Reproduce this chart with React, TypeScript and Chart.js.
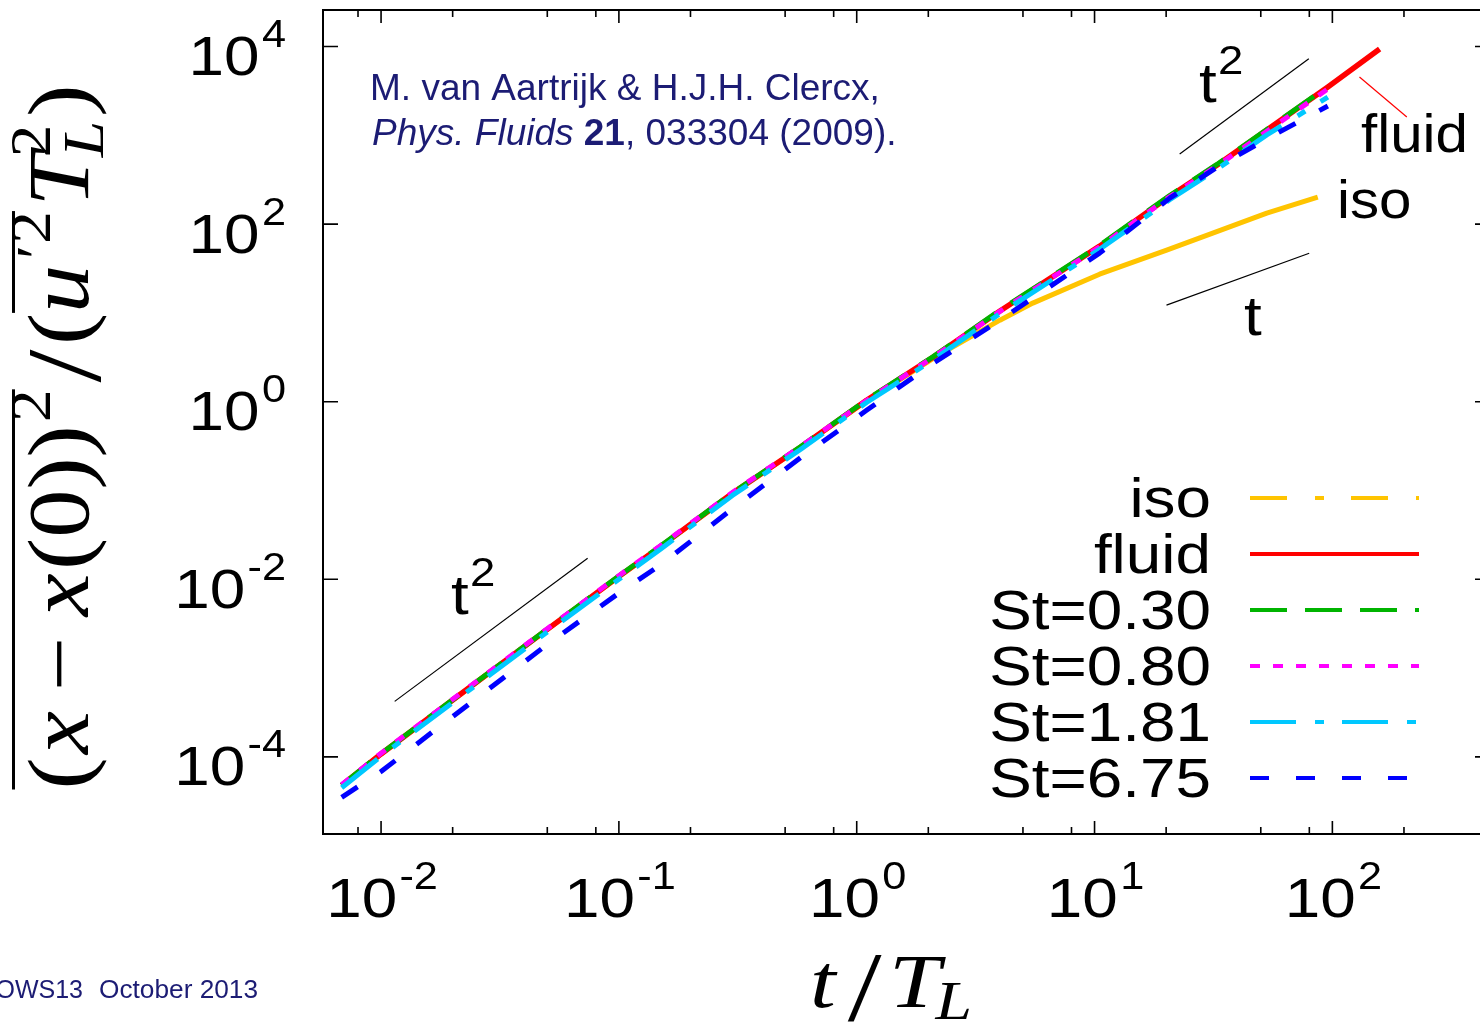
import { useEffect, useRef } from "react";
import { Chart, registerables } from "chart.js";

Chart.register(...registerables);

// ---------------------------------------------------------------------------
// Data: single-particle dispersion vs. time, both in Lagrangian units
// ---------------------------------------------------------------------------
const tPart = [0.00683, 0.01, 0.02, 0.05, 0.1, 0.15, 0.3, 0.58, 1.1, 2.09, 4.0, 10.5, 20.7, 32.7, 53.0, 95.7];
const tFluid = [0.00683, 0.01, 0.02, 0.05, 0.1, 0.15, 0.3, 0.58, 1.1, 2.09, 4.0, 10.5, 20.7, 32.7, 53.0, 95.7, 158];
const yFluid = [4.77e-5, 1.08e-4, 4.38e-4, 2.73e-3, 1.08e-2, 2.35e-2, 0.093, 0.307, 1.04, 3.17, 10.5, 56.5, 206, 461, 1145, 3500, 9370];
const ySt030 = [4.8e-5, 1.09e-4, 4.4e-4, 2.75e-3, 1.09e-2, 2.38e-2, 0.094, 0.31, 1.05, 3.2, 10.7, 57.5, 210, 470, 1160, 3550];
const ySt080 = [4.85e-5, 1.1e-4, 4.45e-4, 2.78e-3, 1.1e-2, 2.4e-2, 0.095, 0.312, 1.03, 3.15, 10.4, 55.5, 203, 450, 1110, 3320];
const ySt181 = [4.5e-5, 1.02e-4, 4.1e-4, 2.55e-3, 1.0e-2, 2.2e-2, 0.088, 0.29, 0.98, 2.95, 9.8, 52, 188, 415, 1010, 2700];
const ySt675 = [3.5e-5, 6.85e-5, 2.85e-4, 1.85e-3, 7.0e-3, 0.0146, 0.0622, 0.234, 0.8, 2.7, 8.3, 47.1, 196, 436, 913, 2136];
const tIso = [0.00683, 0.01, 0.02, 0.05, 0.1, 0.15, 0.3, 0.58, 1.1, 2.09, 2.53, 4.0, 5.5, 10.5, 20.1, 31.4, 53.0, 86.8];
const yIso = [4.75e-5, 1.08e-4, 4.36e-4, 2.72e-3, 1.07e-2, 2.34e-2, 0.092, 0.305, 1.02, 3.05, 4.11, 8.28, 12.9, 27.3, 51, 79.2, 133, 201];

// reference power laws: t^2 (short and long times) and t
const guideLoT = [0.01141, 0.0739];
const guideLoY = [4.22e-4, 0.01725];
const guideHiT = [22.8, 79.6];
const guideHiY = [615, 7288];
const guideLinT = [20.07, 79.9];
const guideLinY = [12.23, 46.9];
// leader from the "fluid" label to its curve
const leaderT = [130, 205.6];
const leaderY = [4530, 1607];

const legendLabels = ["iso", "fluid", "St=0.30", "St=0.80", "St=1.81", "St=6.75"];
const xTickExps = [-2, -1, 0, 1, 2];
const yTickExps = [-4, -2, 0, 2, 4];
const xMinorMant = [2, 5, 8];
const xRange = [0.0057, 460];
const yRange = [1.355e-5, 25770];

// ---------------------------------------------------------------------------
// Styles
// ---------------------------------------------------------------------------
const COLORS = ["#ffc400", "#ff0000", "#00b400", "#ff00ff", "#00c8ff", "#0000ff"];
const DASHES: number[][] = [[37, 28, 9, 27], [], [37, 18], [10, 13], [46, 19, 9, 18], [19, 27]];
const PLOT_DASHES: number[][] = [[], [], [37, 18], [10, 13], [46, 19, 9, 18], [19, 27]];
const SANS = '"Liberation Sans", Arial, Helvetica, sans-serif';
const SERIF = '"Liberation Serif", "Times New Roman", serif';
const NAVY = "#1c1c74";
const STRETCH = 1.14;

type Run = { text: string; font: string; dy?: number; pre?: number; stack?: boolean };
type Layout = { pos: number[]; ends: number[]; width: number };

function layoutRuns(ctx: CanvasRenderingContext2D, runs: Run[]): Layout {
  const pos: number[] = [];
  const ends: number[] = [];
  let cur = 0;
  let lastStart = 0;
  let lastEnd = 0;
  for (const r of runs) {
    ctx.font = r.font;
    const w = ctx.measureText(r.text).width;
    let start: number;
    if (r.stack) {
      start = lastStart;
      lastEnd = Math.max(lastEnd, start + w);
      cur = lastEnd;
    } else {
      start = cur + (r.pre || 0);
      cur = start + w;
      lastStart = start;
      lastEnd = cur;
    }
    pos.push(start);
    ends.push(start + w);
  }
  return { pos, ends, width: cur };
}

function paintRuns(ctx: CanvasRenderingContext2D, runs: Run[], lay: Layout) {
  ctx.textAlign = "left";
  ctx.textBaseline = "alphabetic";
  runs.forEach((r, i) => {
    ctx.font = r.font;
    ctx.fillText(r.text, lay.pos[i], r.dy || 0);
  });
}

function drawText(
  ctx: CanvasRenderingContext2D,
  runs: Run[],
  x: number,
  y: number,
  align: "left" | "right" | "center",
  color: string,
  sx = STRETCH
) {
  ctx.save();
  ctx.fillStyle = color;
  ctx.translate(x, y);
  ctx.scale(sx, 1);
  const lay = layoutRuns(ctx, runs);
  const off = align === "left" ? 0 : align === "right" ? -lay.width : -lay.width / 2;
  ctx.translate(off, 0);
  paintRuns(ctx, runs, lay);
  ctx.restore();
}

// left-aligned text squeezed or widened to a given width
function drawTextFit(ctx: CanvasRenderingContext2D, runs: Run[], x: number, y: number, width: number, color: string) {
  ctx.save();
  const lay = layoutRuns(ctx, runs);
  ctx.fillStyle = color;
  ctx.translate(x, y);
  ctx.scale(width / lay.width, 1);
  paintRuns(ctx, runs, lay);
  ctx.restore();
}

function powerRuns(exp: number): Run[] {
  return [
    { text: "10", font: `56px ${SANS}` },
    { text: String(exp), font: `38px ${SANS}`, dy: -28, pre: 2 },
  ];
}

const pts = (ts: number[], ys: number[]) => ts.map((t, i) => ({ x: t, y: ys[i] }));

const overlay = {
  id: "overlay",
  afterDraw(chart: any) {
    const ctx: CanvasRenderingContext2D = chart.ctx;
    const a = chart.chartArea;
    const xs = chart.scales.x;
    const ys = chart.scales.y;

    // frame
    ctx.save();
    ctx.strokeStyle = "#000";
    ctx.lineWidth = 2;
    ctx.strokeRect(a.left, a.top, a.right - a.left, a.bottom - a.top);

    // x ticks, top and bottom
    ctx.lineWidth = 1.6;
    ctx.beginPath();
    for (let e = -3; e <= 2; e++) {
      const major = Math.pow(10, e);
      if (major >= xRange[0] && major <= xRange[1]) {
        const px = xs.getPixelForValue(major);
        ctx.moveTo(px, a.bottom);
        ctx.lineTo(px, a.bottom - 13);
        ctx.moveTo(px, a.top);
        ctx.lineTo(px, a.top + 13);
      }
      for (const m of xMinorMant) {
        const v = m * major;
        if (v < xRange[0] || v > xRange[1]) continue;
        const px = xs.getPixelForValue(v);
        ctx.moveTo(px, a.bottom);
        ctx.lineTo(px, a.bottom - 7);
        ctx.moveTo(px, a.top);
        ctx.lineTo(px, a.top + 7);
      }
    }
    // y ticks, left and right
    for (const e of yTickExps) {
      const py = ys.getPixelForValue(Math.pow(10, e));
      ctx.moveTo(a.left, py);
      ctx.lineTo(a.left + 15, py);
      ctx.moveTo(a.right, py);
      ctx.lineTo(a.right - 15, py);
    }
    ctx.stroke();
    ctx.restore();

    // tick labels
    for (const e of xTickExps) {
      const px = xs.getPixelForValue(Math.pow(10, e));
      drawText(ctx, powerRuns(e), px + 1, 917, "center", "#000");
    }
    for (const e of yTickExps) {
      const py = ys.getPixelForValue(Math.pow(10, e));
      drawText(ctx, powerRuns(e), 286, py + 28.5, "right", "#000");
    }

    // x axis title: t/T_L
    const xTitle: Run[] = [
      { text: "t", font: `italic 76px ${SERIF}` },
      { text: "/", font: `100px ${SERIF}`, dy: 13, pre: 10 },
      { text: "T", font: `italic 76px ${SERIF}`, pre: 6 },
      { text: "L", font: `italic 54px ${SERIF}`, dy: 12, pre: -4 },
    ];
    drawTextFit(ctx, xTitle, 810, 1007, 162, "#000");

    // y axis title, rotated
    const M = 86;
    const S = 58;
    const yTitle: Run[] = [
      { text: "(", font: `${M}px ${SERIF}` },
      { text: "x", font: `italic ${M}px ${SERIF}`, pre: 3 },
      { text: "\u2212", font: `${M}px ${SERIF}`, pre: 18 },
      { text: "x", font: `italic ${M}px ${SERIF}`, pre: 18 },
      { text: "(0))", font: `${M}px ${SERIF}`, pre: 3 },
      { text: "2", font: `${S}px ${SERIF}`, dy: -38, pre: 3 },
      { text: "/", font: `${M + 20}px ${SERIF}`, dy: 12, pre: 6 },
      { text: "(", font: `${M}px ${SERIF}`, pre: 4 },
      { text: "u", font: `italic ${M}px ${SERIF}` },
      { text: "\u2032", font: `${S}px ${SERIF}`, dy: -32, pre: 5 },
      { text: "2", font: `${S}px ${SERIF}`, dy: -38, pre: 1 },
      { text: "T", font: `italic ${M}px ${SERIF}`, pre: 4 },
      { text: "L", font: `italic ${S}px ${SERIF}`, dy: 15, pre: -4 },
      { text: "2", font: `${S}px ${SERIF}`, dy: -38, stack: true },
      { text: ")", font: `${M}px ${SERIF}`, pre: 4 },
    ];
    ctx.save();
    ctx.translate(88, 437);
    ctx.rotate(-Math.PI / 2);
    const lay = layoutRuns(ctx, yTitle);
    const target = 705;
    ctx.scale(target / lay.width, 1);
    ctx.translate(-lay.width / 2, 0);
    ctx.fillStyle = "#000";
    paintRuns(ctx, yTitle, lay);
    ctx.fillRect(lay.pos[0], -76, lay.ends[5] - lay.pos[0], 3);
    ctx.fillRect(lay.pos[8], -76, lay.ends[10] - lay.pos[8], 3);
    ctx.restore();

    // citation
    drawText(ctx, [{ text: "M. van Aartrijk & H.J.H. Clercx,", font: `37px ${SANS}` }], 370, 100, "left", NAVY, 1);
    drawText(
      ctx,
      [
        { text: "Phys. Fluids ", font: `italic 37px ${SANS}` },
        { text: "21", font: `bold 37px ${SANS}` },
        { text: ", 033304 (2009).", font: `37px ${SANS}` },
      ],
      372,
      145,
      "left",
      NAVY,
      1
    );

    // footer
    drawText(ctx, [{ text: "OWS13", font: `25px ${SANS}` }], 83, 998, "right", NAVY, 1);
    drawText(ctx, [{ text: "October 2013", font: `25px ${SANS}` }], 99, 998, "left", NAVY, 1.05);

    // power-law and curve labels
    const tSq: Run[] = [
      { text: "t", font: `56px ${SANS}` },
      { text: "2", font: `40px ${SANS}`, dy: -28, pre: 1 },
    ];
    drawText(ctx, tSq, 451, 614, "left", "#000");
    drawText(ctx, tSq, 1199, 102, "left", "#000");
    drawText(ctx, [{ text: "t", font: `56px ${SANS}` }], 1244, 335, "left", "#000");
    drawText(ctx, [{ text: "fluid", font: `53px ${SANS}` }], 1361, 152, "left", "#000", 1.1);
    drawText(ctx, [{ text: "iso", font: `53px ${SANS}` }], 1337, 218, "left", "#000", 1.1);

    // key
    const rowY = [498, 554, 610, 666, 722, 778];
    legendLabels.forEach((lab, i) => {
      drawText(ctx, [{ text: lab, font: `56px ${SANS}` }], 1211, rowY[i] + 19, "right", "#000");
      ctx.save();
      ctx.strokeStyle = COLORS[i];
      ctx.lineWidth = 4;
      ctx.setLineDash(DASHES[i]);
      ctx.beginPath();
      ctx.moveTo(1250, rowY[i]);
      ctx.lineTo(1419, rowY[i]);
      ctx.stroke();
      ctx.restore();
    });
  },
};

export default function App() {
  const ref = useRef<HTMLCanvasElement | null>(null);

  useEffect(() => {
    const canvas = ref.current;
    if (!canvas) return;

    const curves = [
      { label: "St=6.75", data: pts(tPart, ySt675), idx: 5, w: 5 },
      { label: "St=1.81", data: pts(tPart, ySt181), idx: 4, w: 5 },
      { label: "St=0.80", data: pts(tPart, ySt080), idx: 3, w: 5 },
      { label: "St=0.30", data: pts(tPart, ySt030), idx: 2, w: 5 },
      { label: "fluid", data: pts(tFluid, yFluid), idx: 1, w: 5.5 },
      { label: "iso", data: pts(tIso, yIso), idx: 0, w: 5 },
    ];
    const guides = [
      { label: "t2-short", data: pts(guideLoT, guideLoY), color: "#000" },
      { label: "t2-long", data: pts(guideHiT, guideHiY), color: "#000" },
      { label: "t-long", data: pts(guideLinT, guideLinY), color: "#000" },
      { label: "fluid-leader", data: pts(leaderT, leaderY), color: "#ff0000" },
    ];

    const datasets: any[] = [
      ...guides.map((g) => ({
        label: g.label,
        data: g.data,
        borderColor: g.color,
        borderWidth: 1.2,
        pointRadius: 0,
        fill: false,
        tension: 0,
      })),
      ...curves.map((c) => ({
        label: c.label,
        data: c.data,
        borderColor: COLORS[c.idx],
        borderWidth: c.w,
        borderDash: PLOT_DASHES[c.idx],
        borderCapStyle: "butt",
        borderJoinStyle: "round",
        pointRadius: 0,
        fill: false,
        tension: 0,
      })),
    ];

    const chart = new Chart(canvas, {
      type: "line",
      data: { datasets },
      options: {
        responsive: false,
        animation: false,
        devicePixelRatio: 1,
        layout: { padding: { left: 323, top: 10, right: 10, bottom: 190 } },
        plugins: { legend: { display: false }, tooltip: { enabled: false } },
        scales: {
          x: {
            type: "logarithmic",
            min: xRange[0],
            max: xRange[1],
            bounds: "data",
            display: false,
          },
          y: {
            type: "logarithmic",
            min: yRange[0],
            max: yRange[1],
            bounds: "data",
            display: false,
          },
        },
      } as any,
      plugins: [overlay],
    });

    return () => chart.destroy();
  }, []);

  return (
    <div
      style={{
        position: "fixed",
        left: 0,
        top: 0,
        width: 1480,
        height: 1024,
        overflow: "hidden",
        background: "#fff",
      }}
    >
      <canvas ref={ref} width={1500} height={1024} style={{ display: "block", width: 1500, height: 1024 }} />
    </div>
  );
}
